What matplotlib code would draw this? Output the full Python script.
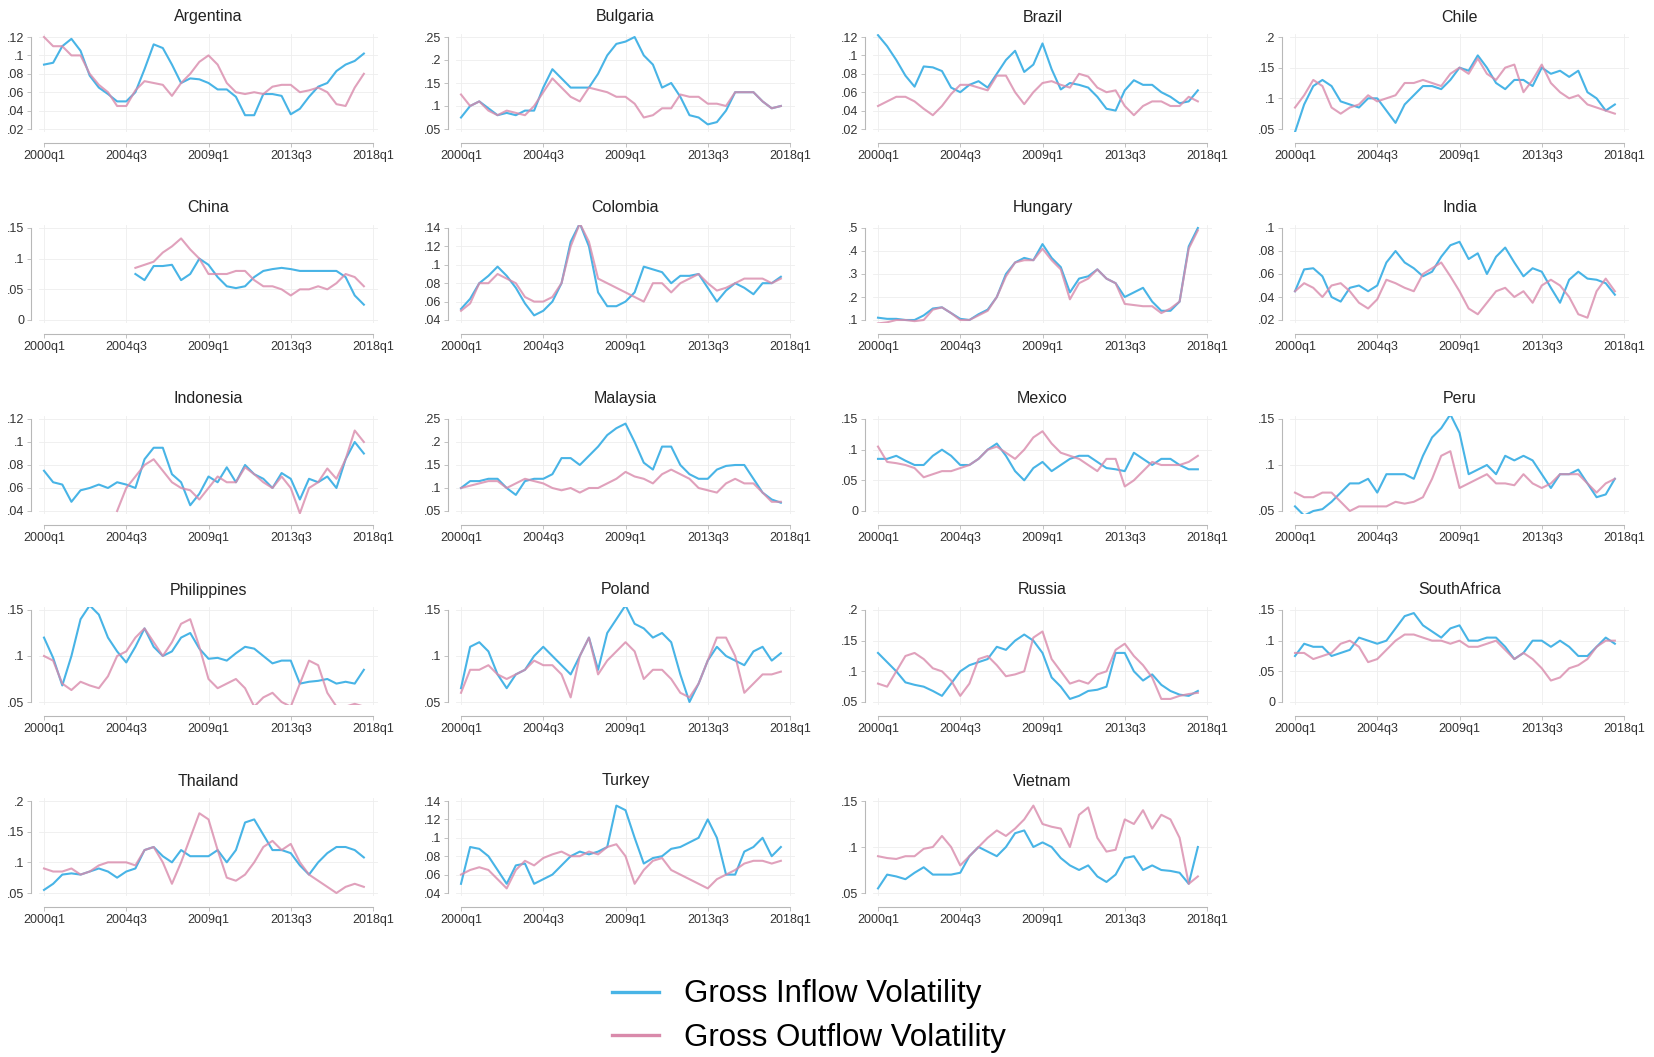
import numpy as np
import matplotlib
matplotlib.use("Agg")
import matplotlib.pyplot as plt
from matplotlib.lines import Line2D

plt.rcParams["font.family"] = ["Liberation Sans", "DejaVu Sans"]

NA = np.nan

# half-yearly readings, quarter index 0 = 2000q1
QTR = list(range(0, 72, 2))
XTICKS = [0, 18, 36, 54, 72]
XLABELS = ["2000q1", "2004q3", "2009q1", "2013q3", "2018q1"]

COUNTRIES = ["Argentina", "Bulgaria", "Brazil", "Chile",
             "China", "Colombia", "Hungary", "India",
             "Indonesia", "Malaysia", "Mexico", "Peru",
             "Philippines", "Poland", "Russia", "SouthAfrica",
             "Thailand", "Turkey", "Vietnam"]

ARG_IN = [.09, .092, .11, .118, .105, .078, .065, .058, .05, .05, .06, .085, .112, .108, .09, .07, .075, .074,
          .07, .063, .063, .055, .035, .035, .058, .058, .056, .036, .042, .055, .066, .07, .083, .09, .094, .102]
ARG_OUT = [.12, .11, .11, .1, .1, .08, .068, .06, .045, .045, .062, .072, .07, .068, .056, .07, .08, .093,
           .1, .09, .07, .06, .058, .06, .058, .066, .068, .068, .06, .062, .065, .06, .047, .045, .065, .08]
ARG_YT = [.02, .04, .06, .08, .1, .12]

BGR_IN = [.075, .1, .11, .095, .08, .085, .08, .09, .09, .14, .18, .16, .14, .14, .14, .17, .21, .235,
          .24, .25, .21, .19, .14, .15, .12, .08, .075, .06, .065, .09, .13, .13, .13, .11, .095, .1]
BGR_OUT = [.125, .1, .11, .09, .08, .09, .085, .08, .1, .13, .16, .14, .12, .11, .14, .135, .13, .12,
           .12, .105, .075, .08, .095, .095, .125, .12, .12, .105, .105, .1, .13, .13, .13, .11, .095, .1]
BGR_YT = [.05, .1, .15, .2, .25]

BRA_IN = [.122, .11, .095, .078, .066, .088, .087, .083, .065, .06, .068, .072, .065, .08, .095, .105, .082, .09,
          .113, .085, .063, .07, .068, .065, .055, .042, .04, .062, .073, .068, .068, .06, .055, .048, .05, .062]
BRA_OUT = [.045, .05, .055, .055, .05, .042, .035, .045, .058, .068, .068, .065, .062, .078, .078, .06, .047, .06,
           .07, .072, .068, .065, .08, .077, .065, .06, .062, .045, .035, .045, .05, .05, .045, .045, .055, .05]
BRA_YT = [.02, .04, .06, .08, .1, .12]

CHL_IN = [.045, .09, .12, .13, .12, .095, .09, .085, .1, .1, .08, .06, .09, .105, .12, .12, .115, .13,
          .15, .145, .17, .15, .125, .115, .13, .13, .12, .15, .14, .145, .135, .145, .11, .1, .08, .09]
CHL_OUT = [.085, .105, .13, .12, .085, .075, .085, .09, .105, .095, .1, .105, .125, .125, .13, .125, .12, .14,
           .15, .14, .165, .14, .13, .15, .155, .11, .13, .155, .125, .11, .1, .105, .09, .085, .08, .075]
CHL_YT = [.05, .1, .15, .2]

CHN_IN = [NA] * 10 + [.075, .065, .088, .088, .09, .065, .075, .1, .09, .07, .055, .052, .055,
                      .07, .08, .083, .085, .083, .08, .08, .08, .08, .08, .07, .04, .025]
CHN_OUT = [NA] * 10 + [.085, .09, .095, .11, .12, .133, .115, .1, .075, .075, .075, .08, .08,
                       .065, .055, .055, .05, .04, .05, .05, .055, .05, .06, .075, .07, .055]
CHN_YT = [0, .05, .1, .15]

COL_IN = [.052, .063, .08, .088, .098, .088, .075, .058, .045, .05, .06, .08, .125, .145, .12, .07, .055, .055,
          .06, .07, .098, .095, .092, .08, .088, .088, .09, .075, .06, .072, .08, .075, .068, .08, .08, .087]
COL_OUT = [.05, .058, .08, .08, .09, .085, .08, .065, .06, .06, .065, .08, .12, .145, .125, .085, .08, .075,
           .07, .065, .06, .08, .08, .07, .08, .085, .09, .08, .072, .075, .08, .085, .085, .085, .08, .085]
COL_YT = [.04, .06, .08, .1, .12, .14]

HUN_IN = [.11, .105, .105, .1, .1, .12, .15, .155, .13, .105, .1, .125, .145, .2, .3, .35, .37, .36,
          .43, .37, .33, .22, .28, .29, .32, .28, .26, .2, .22, .24, .18, .14, .14, .18, .42, .5]
HUN_OUT = [.085, .09, .1, .1, .095, .1, .145, .155, .13, .1, .1, .12, .14, .2, .29, .35, .36, .36,
           .41, .36, .32, .19, .26, .28, .32, .28, .26, .17, .165, .16, .16, .13, .15, .18, .41, .49]
HUN_YT = [.1, .2, .3, .4, .5]

IND_IN = [.045, .064, .065, .058, .04, .036, .048, .05, .045, .05, .07, .08, .07, .065, .058, .062, .075, .085,
          .088, .073, .078, .06, .075, .083, .07, .058, .065, .062, .048, .035, .055, .062, .056, .055, .052, .042]
IND_OUT = [.045, .052, .048, .04, .05, .052, .045, .035, .03, .038, .055, .052, .048, .045, .06, .065, .07, .058,
           .045, .03, .025, .035, .045, .048, .04, .045, .035, .05, .055, .05, .04, .025, .022, .045, .056, .045]
IND_YT = [.02, .04, .06, .08, .1]

IDN_IN = [.075, .065, .063, .048, .058, .06, .063, .06, .065, .063, .06, .085, .095, .095, .072, .065, .045, .055,
          .07, .065, .078, .065, .08, .072, .068, .06, .073, .068, .05, .068, .065, .07, .06, .085, .1, .09]
IDN_OUT = [NA] * 8 + [.04, .06, .07, .08, .085, .075, .065, .06, .058, .05, .06, .07, .065, .065,
                      .078, .072, .065, .06, .07, .06, .038, .06, .065, .077, .068, .085, .11, .1]
IDN_YT = [.04, .06, .08, .1, .12]

MYS_IN = [.1, .115, .115, .12, .12, .1, .085, .115, .12, .12, .13, .165, .165, .15, .17, .19, .215, .23,
          .24, .2, .155, .14, .19, .19, .15, .13, .12, .12, .14, .148, .15, .15, .12, .09, .075, .068]
MYS_OUT = [.1, .105, .11, .115, .115, .1, .11, .12, .115, .11, .1, .095, .1, .09, .1, .1, .11, .12,
           .135, .125, .12, .11, .13, .14, .13, .12, .1, .095, .09, .11, .12, .11, .11, .09, .07, .07]
MYS_YT = [.05, .1, .15, .2, .25]

MEX_IN = [.085, .085, .09, .082, .075, .075, .09, .1, .09, .075, .075, .085, .1, .11, .09, .065, .05, .07,
          .08, .065, .075, .085, .09, .09, .08, .07, .068, .065, .095, .085, .075, .085, .085, .075, .068, .068]
MEX_OUT = [.105, .08, .078, .075, .07, .055, .06, .065, .065, .07, .075, .085, .1, .105, .095, .085, .1, .12,
           .13, .11, .095, .09, .085, .075, .065, .085, .085, .04, .05, .065, .08, .075, .075, .075, .08, .09]
MEX_YT = [0, .05, .1, .15]

PER_IN = [.055, .045, .05, .052, .06, .07, .08, .08, .085, .07, .09, .09, .09, .085, .11, .13, .14, .155,
          .135, .09, .095, .1, .09, .11, .105, .11, .105, .09, .075, .09, .09, .095, .08, .065, .068, .085]
PER_OUT = [.07, .065, .065, .07, .07, .06, .05, .055, .055, .055, .055, .06, .058, .06, .065, .085, .11, .115,
           .075, .08, .085, .09, .08, .08, .078, .09, .08, .075, .08, .09, .09, .09, .08, .07, .08, .085]
PER_YT = [.05, .1, .15]

PHL_IN = [.12, .098, .068, .1, .14, .155, .145, .12, .105, .093, .11, .13, .11, .1, .105, .12, .125, .108,
          .097, .098, .095, .103, .11, .108, .1, .092, .095, .095, .07, .072, .073, .075, .07, .072, .07, .085]
PHL_OUT = [.1, .095, .07, .063, .072, .068, .065, .078, .1, .105, .12, .13, .115, .1, .115, .135, .14, .11,
           .075, .065, .07, .075, .065, .045, .055, .06, .05, .045, .07, .095, .09, .06, .045, .045, .048, .045]
PHL_YT = [.05, .1, .15]

POL_IN = [.065, .11, .115, .105, .08, .065, .08, .085, .1, .11, .1, .09, .08, .1, .12, .085, .125, .14,
          .155, .135, .13, .12, .125, .115, .08, .05, .07, .095, .11, .1, .095, .09, .105, .11, .095, .103]
POL_OUT = [.06, .085, .085, .09, .08, .075, .08, .085, .095, .09, .09, .08, .055, .1, .12, .08, .095, .105,
           .115, .105, .075, .085, .085, .075, .06, .055, .07, .095, .12, .12, .1, .06, .07, .08, .08, .083]
POL_YT = [.05, .1, .15]

RUS_IN = [.13, .115, .1, .082, .078, .075, .068, .06, .08, .1, .11, .115, .12, .14, .135, .15, .16, .15,
          .13, .09, .075, .055, .06, .068, .07, .075, .13, .13, .1, .085, .095, .078, .068, .062, .06, .068]
RUS_OUT = [.08, .075, .1, .125, .13, .12, .105, .1, .085, .06, .08, .12, .125, .11, .092, .095, .1, .155,
           .165, .12, .1, .08, .085, .08, .095, .1, .135, .145, .125, .11, .09, .055, .055, .06, .063, .065]
RUS_YT = [.05, .1, .15, .2]

ZAF_IN = [.075, .095, .09, .09, .075, .08, .085, .105, .1, .095, .1, .12, .14, .145, .125, .115, .105, .12,
          .125, .1, .1, .105, .105, .09, .07, .08, .1, .1, .09, .1, .09, .075, .075, .09, .105, .095]
ZAF_OUT = [.08, .08, .07, .075, .08, .095, .1, .09, .065, .07, .085, .1, .11, .11, .105, .1, .1, .095,
           .1, .09, .09, .095, .1, .085, .07, .08, .07, .055, .035, .04, .055, .06, .07, .09, .1, .1]
ZAF_YT = [0, .05, .1, .15]

THA_IN = [.055, .065, .08, .082, .08, .085, .09, .085, .075, .085, .09, .12, .125, .11, .1, .12, .11, .11,
          .11, .12, .1, .12, .165, .17, .145, .12, .12, .115, .095, .08, .1, .115, .125, .125, .12, .108]
THA_OUT = [.09, .085, .085, .09, .08, .085, .095, .1, .1, .1, .095, .12, .125, .1, .065, .1, .14, .18,
           .17, .12, .075, .07, .08, .1, .125, .135, .12, .13, .1, .08, .07, .06, .05, .06, .065, .06]
THA_YT = [.05, .1, .15, .2]

TUR_IN = [.05, .09, .088, .08, .065, .05, .07, .072, .05, .055, .06, .07, .08, .085, .082, .085, .09, .135,
          .13, .1, .072, .078, .08, .088, .09, .095, .1, .12, .1, .06, .06, .085, .09, .1, .08, .09]
TUR_OUT = [.06, .065, .068, .065, .055, .045, .065, .075, .07, .078, .082, .085, .08, .08, .085, .082, .09, .093,
           .08, .05, .065, .075, .078, .065, .06, .055, .05, .045, .055, .06, .065, .072, .075, .075, .072, .075]
TUR_YT = [.04, .06, .08, .1, .12, .14]

VNM_IN = [.055, .07, .068, .065, .072, .078, .07, .07, .07, .072, .09, .1, .095, .09, .1, .115, .118, .1,
          .105, .1, .088, .08, .075, .08, .068, .062, .07, .088, .09, .075, .08, .075, .074, .072, .06, .1]
VNM_OUT = [.09, .088, .087, .09, .09, .098, .1, .112, .1, .08, .09, .1, .11, .118, .112, .12, .13, .145,
           .125, .122, .12, .1, .135, .143, .11, .095, .097, .13, .125, .14, .12, .135, .13, .11, .06, .068]
VNM_YT = [.05, .1, .15]

PANELS = [
    (ARG_IN, ARG_OUT, ARG_YT), (BGR_IN, BGR_OUT, BGR_YT), (BRA_IN, BRA_OUT, BRA_YT), (CHL_IN, CHL_OUT, CHL_YT),
    (CHN_IN, CHN_OUT, CHN_YT), (COL_IN, COL_OUT, COL_YT), (HUN_IN, HUN_OUT, HUN_YT), (IND_IN, IND_OUT, IND_YT),
    (IDN_IN, IDN_OUT, IDN_YT), (MYS_IN, MYS_OUT, MYS_YT), (MEX_IN, MEX_OUT, MEX_YT), (PER_IN, PER_OUT, PER_YT),
    (PHL_IN, PHL_OUT, PHL_YT), (POL_IN, POL_OUT, POL_YT), (RUS_IN, RUS_OUT, RUS_YT), (ZAF_IN, ZAF_OUT, ZAF_YT),
    (THA_IN, THA_OUT, THA_YT), (TUR_IN, TUR_OUT, TUR_YT), (VNM_IN, VNM_OUT, VNM_YT),
]

BLUE = "#48b4e6"
PINK = "#d98aab"
AXIS_GRAY = "#b8b8b8"


def stata_fmt(v):
    s = f"{v:g}"
    return s[1:] if s.startswith("0.") else s


W, H = 1654, 1057
fig = plt.figure(figsize=(W / 100, H / 100), dpi=100)
fig.patch.set_facecolor("white")

COL_X = [44, 461, 878, 1295]   # pixel x of 2000q1 in each column
SPAN_W = 329                   # pixels from 2000q1 to 2018q1
ROW_TOP = 37                   # pixel y of the highest y tick, first row
ROW_STEP = 191
SPAN_H = 92                    # pixels between lowest and highest y tick
PAD = 3

for k, name in enumerate(COUNTRIES):
    inflow, outflow, yt = PANELS[k]
    r, c = divmod(k, 4)
    pq = SPAN_W / 72
    left = (COL_X[c] - pq) / W
    width = (SPAN_W + 2 * pq) / W
    top_px = ROW_TOP + r * ROW_STEP - PAD
    height_px = SPAN_H + 2 * PAD
    ax = fig.add_axes([left, 1 - (top_px + height_px) / H, width, height_px / H])

    ax.plot(QTR, inflow, color=BLUE, lw=1.5, zorder=3)
    ax.plot(QTR, outflow, color=PINK, lw=1.5, alpha=0.8, zorder=4)

    lo, hi = yt[0], yt[-1]
    ypad = (hi - lo) * PAD / SPAN_H
    ax.set_ylim(lo - ypad, hi + ypad)
    ax.set_xlim(-1, 73)
    ax.set_yticks(yt)
    ax.set_yticklabels([stata_fmt(v) for v in yt])
    ax.set_xticks(XTICKS)
    ax.set_xticklabels(XLABELS)

    for side in ("top", "right"):
        ax.spines[side].set_visible(False)
    ax.spines["left"].set_position(("outward", 6))
    ax.spines["left"].set_bounds(lo, hi)
    ax.spines["bottom"].set_position(("outward", 8))
    ax.spines["bottom"].set_bounds(0, 72)
    for side in ("left", "bottom"):
        ax.spines[side].set_color(AXIS_GRAY)
        ax.spines[side].set_linewidth(0.8)

    ax.tick_params(axis="both", length=3, width=0.6, color=AXIS_GRAY,
                   labelsize=9, labelcolor="#333333", pad=2)
    ax.grid(True, color="#eeeeee", lw=0.6, zorder=0)
    ax.set_facecolor("white")
    ax.set_title(name, fontsize=11.5, color="#222222", pad=9)

handles = [Line2D([], [], color=BLUE, lw=2.4),
           Line2D([], [], color=PINK, lw=2.4)]
fig.legend(handles, ["Gross Inflow Volatility", "Gross Outflow Volatility"],
           loc="center left", bbox_to_anchor=(612 / W, 1 - 1016 / H),
           frameon=False, fontsize=22.5, handlelength=1.5, handletextpad=0.8,
           labelspacing=0.42, borderpad=0, borderaxespad=0)

fig.savefig("out.png", dpi=100, facecolor="white")
